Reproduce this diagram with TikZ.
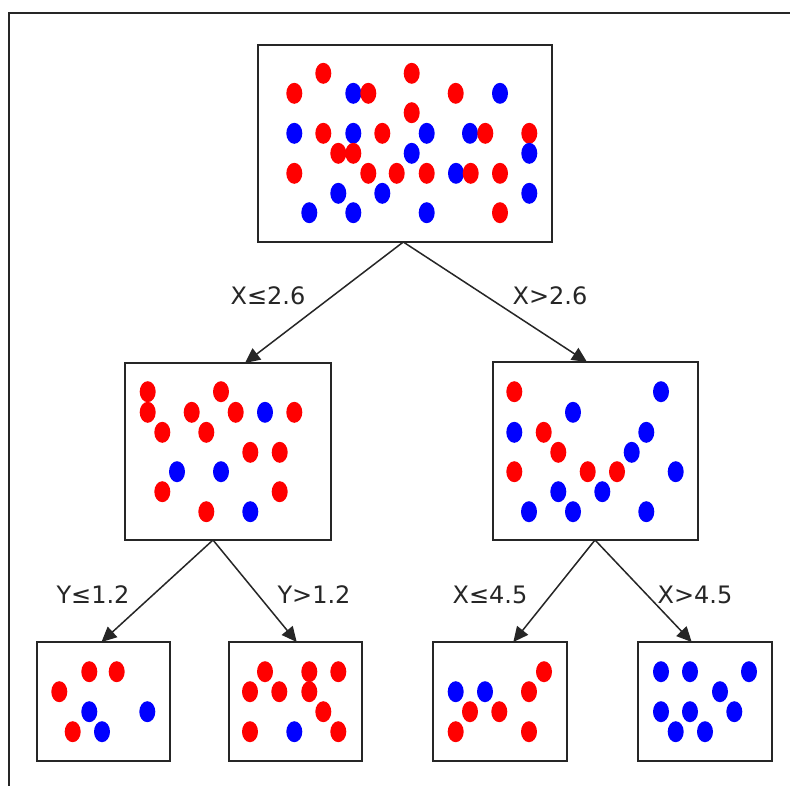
\documentclass[tikz,border=0pt]{standalone}
\usepackage{fontspec}
\setmainfont{DejaVu Sans}
\usetikzlibrary{arrows.meta}
\tikzset{
  box/.style={draw=black!85, line width=2pt, fill=white, inner sep=0pt, outer sep=0pt},
  conn/.style={draw=black!85, line width=1.5pt, -{Triangle[length=15pt,width=14pt]}},
  lbl/.style={text=black!85, font=\fontsize{24}{28}\selectfont, inner sep=0pt},
  rdot/.style={fill=red},
  bdot/.style={fill=blue}
}
\newcommand\rdd[1]{\fill[rdot] (#1) ellipse[x radius=8pt, y radius=10.5pt];}
\newcommand\bld[1]{\fill[bdot] (#1) ellipse[x radius=8pt, y radius=10.5pt];}
\begin{document}
\begin{tikzpicture}[x=1pt, y=-1pt]
\useasboundingbox (0,0) rectangle (790,785);
\fill[white] (0,0) rectangle (790,785);
% outer frame
\draw[black!85, line width=2pt] (9,790) -- (9,13.3) -- (795,13.3);

% boxes
\node[box, minimum width=294pt, minimum height=197pt] (root) at (405,143.5) {};
\node[box, minimum width=206pt, minimum height=177pt] (L) at (228,451.5) {};
\node[box, minimum width=205pt, minimum height=178pt] (R) at (595.5,451) {};
\node[box, minimum width=133pt, minimum height=119pt] (LL) at (103.5,701.5) {};
\node[box, minimum width=133pt, minimum height=119pt] (LR) at (295.5,701.5) {};
\node[box, minimum width=134pt, minimum height=119pt] (RL) at (500,701.5) {};
\node[box, minimum width=134pt, minimum height=119pt] (RR) at (705,701.5) {};

% root dots
\bld{353.3,93.3}\bld{500,93.3}\bld{294.3,133.3}\bld{353.3,133.3}\bld{426.7,133.3}
\bld{470,133.3}\bld{411.7,153.3}\bld{456,173.3}\bld{338.3,193.3}\bld{382.3,193.3}
\bld{529.3,193.3}\bld{309.3,212.7}\bld{353.3,212.7}\bld{426.7,212.7}
\rdd{323.3,73.3}\rdd{411.7,73.3}\rdd{294.3,93.3}\rdd{368.3,93.3}\rdd{455.7,93.3}
\rdd{411.7,112.7}\rdd{323.3,133.3}\rdd{382.3,133.3}\rdd{485.3,133.3}\rdd{529.3,133.3}
\rdd{338.3,153.3}\rdd{353.3,153.3}\rdd{294.3,173.3}\rdd{368.3,173.3}\rdd{396.7,173.3}
\rdd{426.7,173.3}\rdd{470.7,173.3}\rdd{500,173.3}\rdd{500,212.7}
\bld{529.3,153.3}

% left middle dots
\rdd{147.7,391.7}\rdd{221,391.7}\rdd{147.7,412.3}\rdd{191.7,412.3}\rdd{235.7,412.3}
\rdd{294.3,412.3}\rdd{162.3,432.3}\rdd{206.3,432.3}\rdd{250.3,452.3}\rdd{279.7,452.3}
\rdd{162.3,491.7}\rdd{279.7,491.7}\rdd{206.3,511.7}
\bld{265,412.3}\bld{177,471.7}\bld{221,471.7}\bld{250.3,511.7}

% right middle dots
\rdd{514.3,391.7}\rdd{543.7,432.3}\rdd{558.3,452.3}\rdd{514.3,471.7}\rdd{587.7,471.7}\rdd{617,471.7}
\bld{661,391.7}\bld{573,412.3}\bld{514.3,432.3}\bld{646.3,432.3}\bld{631.7,452.3}
\bld{675.7,471.7}\bld{558.3,491.7}\bld{602.3,491.7}\bld{529,511.7}\bld{573,511.7}\bld{646.3,511.7}

% bottom boxes
\rdd{89.3,671.7}\rdd{116.7,671.7}\rdd{59.3,691.7}\rdd{72.7,731.7}
\bld{89.3,711.7}\bld{147.3,711.7}\bld{102,731.7}

\rdd{265,671.7}\rdd{309.3,671.7}\rdd{338.3,671.7}\rdd{250,691.7}\rdd{279.3,691.7}
\rdd{309.3,691.7}\rdd{323.3,711.7}\rdd{250,731.7}\rdd{338.3,731.7}
\bld{294.3,731.7}

\rdd{544,671.7}\rdd{529,691.7}\rdd{470,711.7}\rdd{499.3,711.7}\rdd{455.7,731.7}\rdd{529,731.7}
\bld{455.7,691.7}\bld{485,691.7}

\bld{661,671.7}\bld{690,671.7}\bld{749,671.7}\bld{720,691.7}\bld{661,711.7}
\bld{690,711.7}\bld{734.3,711.7}\bld{675.7,731.7}\bld{705,731.7}

% connectors
\draw[conn] ([xshift=-1.7pt]root.south) -- ([xshift=17pt]L.north);
\draw[conn] ([xshift=-1.7pt]root.south) -- ([xshift=-8.5pt]R.north);
\draw[conn] ([xshift=-15pt]L.south) -- ([xshift=-2pt]LL.north);
\draw[conn] ([xshift=-15pt]L.south) -- ([xshift=1.2pt]LR.north);
\draw[conn] ([xshift=-0.5pt]R.south) -- ([xshift=13.3pt]RL.north);
\draw[conn] ([xshift=-0.5pt]R.south) -- ([xshift=-13.3pt]RR.north);

% labels
\node[lbl] (l1) at (268,296) {X≤2.6};
\node[lbl] (l2) at (550,296) {X>2.6};
\node[lbl] (l3) at (93,595) {Y≤1.2};
\node[lbl] (l4) at (314,595) {Y>1.2};
\node[lbl] (l5) at (490,595) {X≤4.5};
\node[lbl] (l6) at (695,595) {X>4.5};
\end{tikzpicture}
\end{document}
